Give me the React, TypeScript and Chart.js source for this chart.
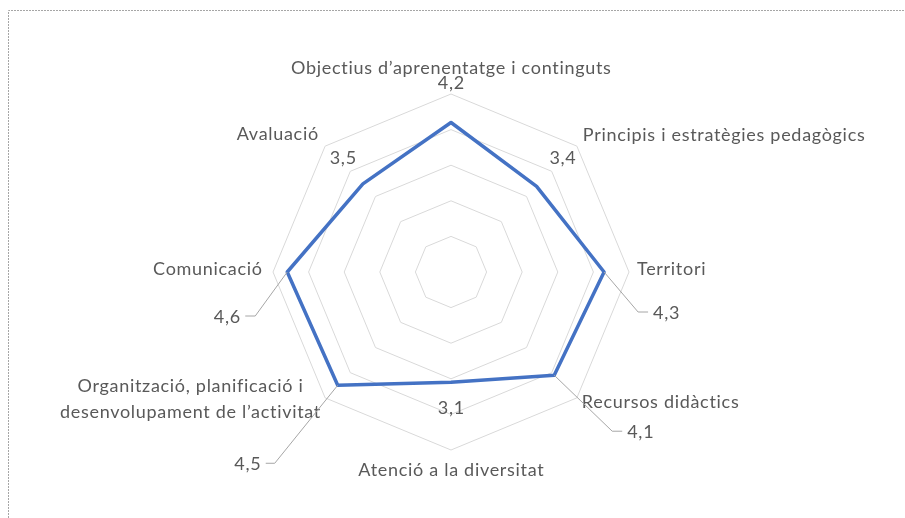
import React, { useEffect, useRef } from "react";
import { Chart, registerables } from "chart.js";

Chart.register(...registerables);

// ---- data ----
const categories: (string | string[])[] = [
  "Objectius d’aprenentatge i continguts",
  "Principis i estratègies pedagògics",
  "Territori",
  "Recursos didàctics",
  "Atenció a la diversitat",
  ["Organització, planificació i", "desenvolupament de l’activitat"],
  "Comunicació",
  "Avaluació",
];
const values = [4.2, 3.4, 4.3, 4.1, 3.1, 4.5, 4.6, 3.5];
const valueLabels = ["4,2", "3,4", "4,3", "4,1", "3,1", "4,5", "4,6", "3,5"];
const scaleMin = 0;
const scaleMax = 5;
const scaleStep = 1;

// ---- label layout (offsets relative to outer vertex / data point) ----
const catLayout: [number, number, CanvasTextAlign][] = [
  [0, -26, "center"],
  [6, -11, "left"],
  [8, -3, "left"],
  [5, 4, "left"],
  [0, 20, "center"],
  [-135, -12, "center"],
  [-11, -3, "right"],
  [-7, -12, "right"],
];
type VL = { dx: number; dy: number; leader?: boolean; tail?: number };
const valLayout: VL[] = [
  { dx: 0, dy: -39 },
  { dx: 26, dy: -28 },
  { dx: 34, dy: 40, leader: true, tail: 10 },
  { dx: 58, dy: 56, leader: true, tail: 10 },
  { dx: 0, dy: 26 },
  { dx: -63, dy: 78, leader: true, tail: -9 },
  { dx: -32, dy: 44, leader: true, tail: -10 },
  { dx: -20, dy: -26 },
];

const FONT = '18px Lato';
const TEXT = "#595959";

const labelPlugin = {
  id: "labelPlugin",
  beforeDraw(chart: any) {
    const ctx = chart.ctx;
    ctx.save();
    ctx.strokeStyle = "#a6a6a6";
    ctx.lineWidth = 1;
    ctx.setLineDash([2, 1]);
    ctx.beginPath();
    ctx.moveTo(8.5, chart.height);
    ctx.lineTo(8.5, 10.5);
    ctx.lineTo(chart.width, 10.5);
    ctx.stroke();
    ctx.restore();
  },
  afterDatasetsDraw(chart: any) {
    const ctx = chart.ctx;
    const scale = chart.scales.r;
    const meta = chart.getDatasetMeta(0);
    ctx.save();
    ctx.font = FONT;
    ctx.fillStyle = TEXT;
    ctx.textBaseline = "middle";
    const spacing = 0.7;
    (ctx as any).letterSpacing = spacing + "px";
    const put = (t: string, x: number, y: number, align: CanvasTextAlign) => {
      ctx.textAlign = align;
      // compensate trailing letter spacing
      const adj = align === "center" ? spacing / 2 : align === "right" ? spacing : 0;
      ctx.fillText(t, x + adj, y);
    };
    categories.forEach((c, i) => {
      const v = scale.getPointPosition(i, scale.drawingArea);
      const [dx, dy, align] = catLayout[i];
      const lines = Array.isArray(c) ? c : [c];
      lines.forEach((ln, j) => put(ln, v.x + dx, v.y + dy + j * 26, align));
    });
    valueLabels.forEach((t, i) => {
      const p = meta.data[i];
      const L = valLayout[i];
      if (L.leader) {
        const kx = p.x + L.dx;
        const ky = p.y + L.dy;
        const ex = kx + (L.tail as number);
        ctx.strokeStyle = "#a6a6a6";
        ctx.lineWidth = 1;
        ctx.beginPath();
        ctx.moveTo(p.x, p.y);
        ctx.lineTo(kx, ky);
        ctx.lineTo(ex, ky);
        ctx.stroke();
        const right = (L.tail as number) < 0;
        put(t, ex + (right ? -5 : 5), ky + 1, right ? "right" : "left");
      } else {
        put(t, p.x + L.dx, p.y + L.dy, "center");
      }
    });
    ctx.restore();
  },
};

export default function App() {
  const ref = useRef<HTMLCanvasElement | null>(null);
  useEffect(() => {
    if (!ref.current) return;
    const chart = new Chart(ref.current, {
      type: "radar",
      data: {
        labels: categories.map((c) => (Array.isArray(c) ? c.join(" ") : c)),
        datasets: [
          {
            data: values,
            borderColor: "#4472C4",
            borderWidth: 3.5,
            fill: false,
            pointRadius: 0,
            pointHoverRadius: 0,
            borderJoinStyle: "round",
            tension: 0,
          },
        ],
      },
      options: {
        animation: false,
        responsive: false,
        devicePixelRatio: 1,
        layout: { padding: { top: 94, bottom: 68, left: 273, right: 276 } },
        plugins: { legend: { display: false }, tooltip: { enabled: false } },
        scales: {
          r: {
            min: scaleMin,
            max: scaleMax,
            ticks: { stepSize: scaleStep, display: false },
            grid: { color: "#d9d9d9", lineWidth: 1, circular: false },
            angleLines: { display: false },
            pointLabels: { display: false },
          },
        },
      },
      plugins: [labelPlugin],
    });
    return () => chart.destroy();
  }, []);
  return (
    <div style={{ position: "absolute", left: 0, top: 0, width: 905, height: 518 }}>
      <canvas ref={ref} width={905} height={518} style={{ display: "block" }} />
    </div>
  );
}
